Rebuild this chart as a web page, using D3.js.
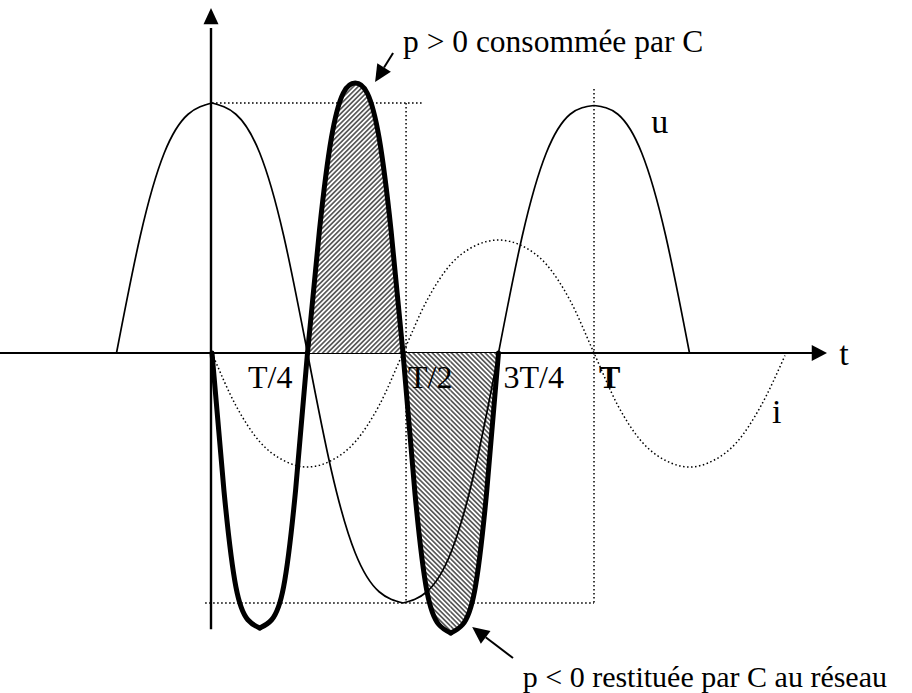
<!DOCTYPE html>
<html><head><meta charset="utf-8">
<script src="https://cdn.jsdelivr.net/npm/d3@7"></script>
<style>html,body{margin:0;padding:0;background:#fff;} svg{display:block;}</style>
</head><body>
<script>
// ---- data (time in units of the period T) ----
// u : supply voltage, sampled every T/16 from -T/4 to 5T/4
const uTime = [-4,-3,-2,-1,0,1,2,3,4,5,6,7,8,9,10,11,12,13,14,15,16,17,18,19,20].map(k => k / 16);
const uValues = [0, 0.47, 0.80, 0.955, 1, 0.955, 0.80, 0.47, 0, -0.47, -0.80, -0.955, -1, -0.955, -0.80, -0.47, 0, 0.47, 0.80, 0.955, 0.99, 0.955, 0.80, 0.47, 0];
// i : current, sampled every T/16 from 0 to 3T/2
const iTime = [0,1,2,3,4,5,6,7,8,9,10,11,12,13,14,15,16,17,18,19,20,21,22,23,24].map(k => k / 16);
const iValues = [0, -0.21, -0.355, -0.43, -0.456, -0.43, -0.355, -0.21, 0, 0.21, 0.355, 0.428, 0.452, 0.428, 0.355, 0.21, 0, -0.21, -0.355, -0.43, -0.456, -0.43, -0.355, -0.21, -0.01];
// p : instantaneous power, sampled every T/32 from 0 to 3T/4
const pTime = [0,1,2,3,4,5,6,7,8,9,10,11,12,13,14,15,16,17,18,19,20,21,22,23,24].map(k => k / 32);
const pValues = [0, -0.55, -0.935, -1.067, -1.10, -1.067, -0.935, -0.55, 0, 0.49, 0.86, 1.04, 1.08, 1.04, 0.86, 0.49, 0, -0.56, -0.952, -1.086, -1.12, -1.086, -0.952, -0.56, 0];
// tick labels on the t axis
const tickPos = [0.25, 0.5, 0.75, 1];
const tickLabels = ["T/4", "T/2", "3T/4", "T"];
// annotations
const noteTexts = ["p > 0 consommée par C", "p < 0 restituée par C au réseau"];

const W = 912, H = 693;
const x = d3.scaleLinear().domain([0, 1]).range([212, 594]);
const y = d3.scaleLinear().domain([-1, 1]).range([603, 103]);

const svg = d3.select("body").append("svg").attr("width", W).attr("height", H);
const defs = svg.append("defs");
const FONT = "'Liberation Serif','Times New Roman',serif";

function hatch(id, angle) {
  const p = defs.append("pattern").attr("id", id).attr("patternUnits", "userSpaceOnUse")
    .attr("width", 3.4).attr("height", 10).attr("patternTransform", `rotate(${angle})`);
  p.append("rect").attr("width", 3.4).attr("height", 10).attr("fill", "#fff");
  p.append("line").attr("x1", 1.7).attr("x2", 1.7).attr("y1", 0).attr("y2", 10)
    .attr("stroke", "#444").attr("stroke-width", 1.5);
}
hatch("hatchUp", 45);
hatch("hatchDown", -45);

function clip(id, t0, t1) {
  defs.append("clipPath").attr("id", id).append("rect")
    .attr("x", x(t0)).attr("width", x(t1) - x(t0)).attr("y", 0).attr("height", H);
}
clip("clipUp", 0.25, 0.5);
clip("clipDown", 0.5, 0.75);

const pts = (ts, vs, a, b) => d3.range(a, b + 1).map(k => [ts[k], vs[k]]);
const line = d3.line().x(d => x(d[0])).y(d => y(d[1])).curve(d3.curveNatural);
const iLine = d3.line().x(d => x(d[0])).y(d => y(d[1])).curve(d3.curveMonotoneX);
const area = d3.area().x(d => x(d[0])).y0(y(0)).y1(d => y(d[1])).curve(d3.curveNatural);

// p drawn as arcs: cusp at the minima, rounded maximum
const pSegs = [[0, 4], [4, 8], [8, 16], [16, 20], [20, 24]];

// ---- dotted guides ----
const guide = (t0, v0, t1, v1) => svg.append("line")
  .attr("x1", x(t0)).attr("y1", y(v0)).attr("x2", x(t1)).attr("y2", y(v1))
  .attr("stroke", "#000").attr("stroke-width", 1.5).attr("stroke-dasharray", "1.6,2.4");
guide(0, 1, 0.552, 1);
guide(0.508, 1, 0.508, -1);
guide(-0.018, -1, 1, -1);
guide(1, 1.056, 1, -1);

// ---- axes ----
svg.append("line").attr("x1", x(-0.56)).attr("x2", x(1.575)).attr("y1", y(0)).attr("y2", y(0))
  .attr("stroke", "#000").attr("stroke-width", 2);
svg.append("path").attr("d", `M${x(1.61)},${y(0)} L${x(1.57)},${y(0) - 8} L${x(1.57)},${y(0) + 8} Z`).attr("fill", "#000");
svg.append("line").attr("x1", x(0) - 1).attr("x2", x(0) - 1).attr("y1", y(1.3)).attr("y2", y(-1.105))
  .attr("stroke", "#000").attr("stroke-width", 2.4);
svg.append("path").attr("d", `M${x(0) - 1},${y(1.38)} L${x(0) - 8.5},${y(1.315)} L${x(0) + 6.5},${y(1.315)} Z`).attr("fill", "#000");

// ---- hatched areas ----
[[4, 8], [8, 16]].forEach(([a, b]) =>
  svg.append("path").attr("d", area(pts(pTime, pValues, a, b))).attr("fill", "url(#hatchUp)").attr("clip-path", "url(#clipUp)"));
[[16, 20], [20, 24]].forEach(([a, b]) =>
  svg.append("path").attr("d", area(pts(pTime, pValues, a, b))).attr("fill", "url(#hatchDown)").attr("clip-path", "url(#clipDown)"));

// ---- tick labels ----
svg.selectAll("text.tick").data(tickLabels).join("text").attr("class", "tick")
  .attr("x", (d, k) => k === 0 ? x(tickPos[k]) - 15 : x(tickPos[k]) + 5)
  .attr("y", y(0) + 35)
  .attr("text-anchor", (d, k) => k === 0 ? "end" : "start")
  .attr("font-family", FONT).attr("font-size", 32)
  .attr("font-weight", (d, k) => k === 3 ? "bold" : "normal")
  .text(d => d);

// ---- i (dotted) ----
svg.append("path").attr("d", iLine(pts(iTime, iValues, 0, 24))).attr("fill", "none")
  .attr("stroke", "#000").attr("stroke-width", 1.5).attr("stroke-dasharray", "1.5,2.5");

// ---- u (thin, arcs meeting at the extrema) ----
[[0, 4], [4, 12], [12, 20], [20, 24]].forEach(([a, b]) => {
  svg.append("path").attr("d", line(pts(uTime, uValues, a, b))).attr("fill", "none")
    .attr("stroke", "#000").attr("stroke-width", 1.7);
});

// ---- p (thick) ----
pSegs.forEach(([a, b]) => {
  svg.append("path").attr("d", line(pts(pTime, pValues, a, b))).attr("fill", "none")
    .attr("stroke", "#000").attr("stroke-width", 5).attr("stroke-linejoin", "round").attr("stroke-linecap", "round");
});

// ---- curve labels ----
const lbl = (t, v, s, size) => svg.append("text").attr("x", x(t)).attr("y", y(v))
  .attr("font-family", FONT).attr("font-size", size).text(s);
lbl(1.15, 0.88, "u", 34);
lbl(1.466, -0.28, "i", 34);
lbl(1.642, -0.048, "t", 34);

// ---- annotations ----
function arrow(t0, v0, t1, v1) {
  const x0 = x(t0), y0 = y(v0), x1 = x(t1), y1 = y(v1);
  const a = Math.atan2(y1 - y0, x1 - x0), L = 17, Wd = 8;
  const bx = x1 - L * Math.cos(a), by = y1 - L * Math.sin(a);
  svg.append("line").attr("x1", x0).attr("y1", y0).attr("x2", bx).attr("y2", by)
    .attr("stroke", "#000").attr("stroke-width", 2);
  svg.append("path").attr("d",
    `M${x1},${y1} L${bx + Wd * Math.sin(a)},${by - Wd * Math.cos(a)} L${bx - Wd * Math.sin(a)},${by + Wd * Math.cos(a)} Z`)
    .attr("fill", "#000");
}
arrow(0.474, 1.2, 0.427, 1.084);
arrow(0.788, -1.22, 0.681, -1.096);
svg.append("text").attr("x", 403).attr("y", y(1.204)).attr("font-family", FONT).attr("font-size", 31.5).text(noteTexts[0]);
svg.append("text").attr("x", 887).attr("y", y(-1.336)).attr("text-anchor", "end").attr("font-family", FONT).attr("font-size", 30).text(noteTexts[1]);
</script>
</body></html>
